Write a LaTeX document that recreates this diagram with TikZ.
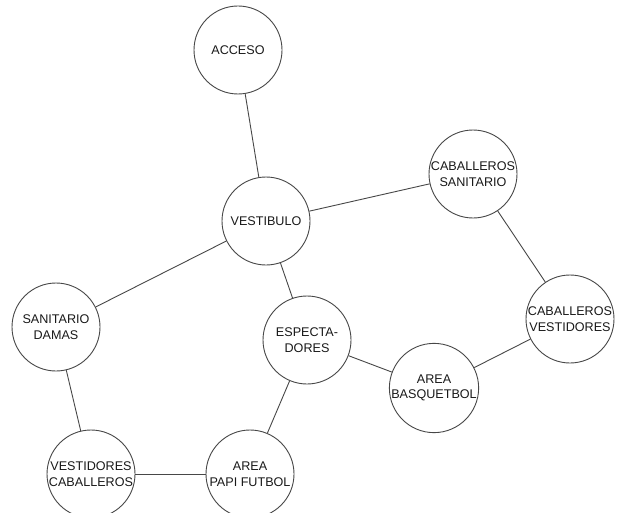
\documentclass[tikz,border=0pt]{standalone}
\usepackage{fontspec}
\setmainfont{Liberation Sans}
\begin{document}
\begin{tikzpicture}[x=1pt,y=-1pt,
  room/.style={circle,draw=black!72,line width=0.9pt,minimum size=88pt,inner sep=0pt,align=center,
    font=\fontsize{12.6}{15.5}\selectfont,text=black!90},
  link/.style={draw=black!72,line width=0.9pt}]
\useasboundingbox[fill=white] (0,0) rectangle (620,513);
\begin{scope}
\clip (0,0) rectangle (620,513);
\node[room] (acceso) at (238,50) {ACCESO};
\node[room] (vest) at (266,221) {VESTIBULO};
\node[room] (cabsan) at (473,174) {CABALLEROS\\SANITARIO};
\node[room] (cabves) at (570,319) {CABALLEROS\\VESTIDORES};
\node[room] (sandam) at (56,327) {SANITARIO\\DAMAS};
\node[room] (espec) at (307,340) {ESPECTA-\\DORES};
\node[room] (basq) at (434,388) {AREA\\BASQUETBOL};
\node[room] (papi) at (250,474) {AREA\\PAPI FUTBOL};
\node[room] (vestcab) at (91,474) {VESTIDORES\\CABALLEROS};
\draw[link] (acceso) -- (vest);
\draw[link] (vest) -- (cabsan);
\draw[link] (vest) -- (sandam);
\draw[link] (vest) -- (espec);
\draw[link] (cabsan) -- (cabves);
\draw[link] (cabves) -- (basq);
\draw[link] (espec) -- (basq);
\draw[link] (espec) -- (papi);
\draw[link] (papi) -- (vestcab);
\draw[link] (sandam) -- (vestcab);
\end{scope}
\end{tikzpicture}
\end{document}
